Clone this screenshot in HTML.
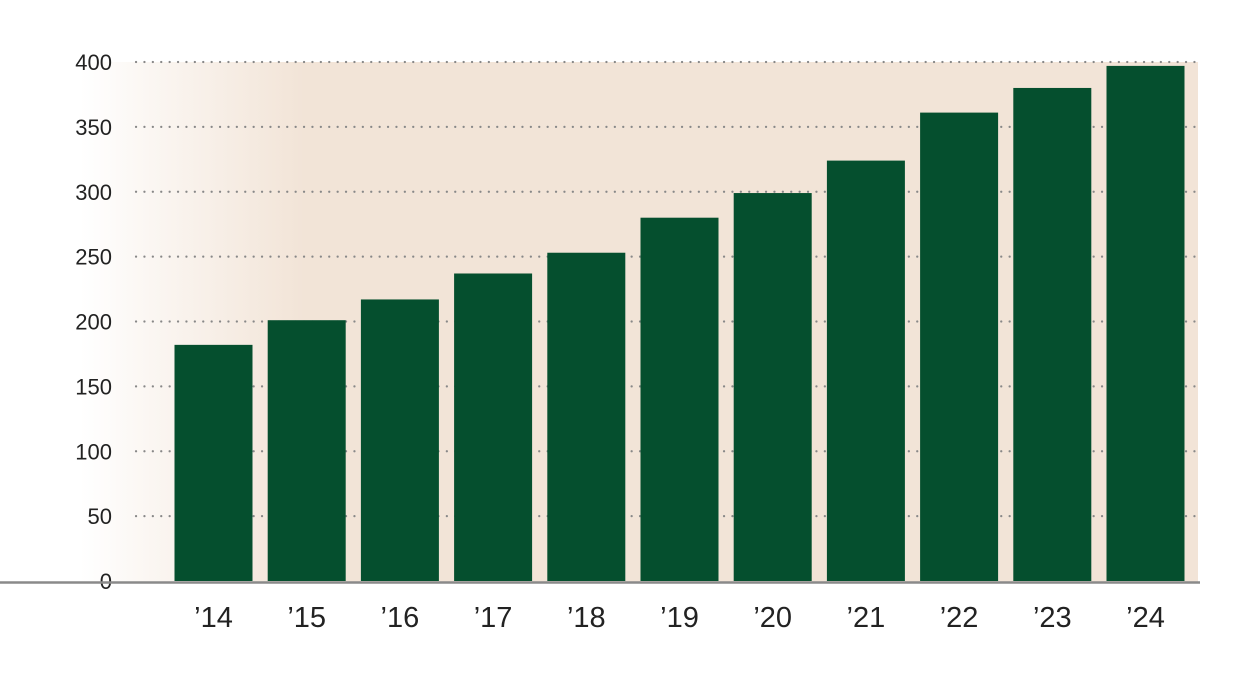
<!DOCTYPE html>
<html><head><meta charset="utf-8"><style>
html,body{margin:0;padding:0;background:#fff;}
svg{display:block;}
text{font-family:"Liberation Sans",sans-serif;fill:#222;}
</style></head><body>
<svg id="chart" width="1250" height="677" viewBox="0 0 1250 677">
<defs><linearGradient id="bg" x1="0" x2="1" y1="0" y2="0">
<stop offset="0" stop-color="#f2e4d7" stop-opacity="0"/>
<stop offset="0.2" stop-color="#f2e4d7" stop-opacity="1"/>
<stop offset="1" stop-color="#f2e4d7"/></linearGradient></defs>
<rect x="80" y="62" width="1118" height="520" fill="url(#bg)"/>
<g id="grid"></g><g id="bars"></g><g id="xlabels"></g>
<line x1="0" x2="1200" y1="582.5" y2="582.5" stroke="#8a8a8a" stroke-width="2.5"/>
</svg>
<script>
const categories=["’14","’15","’16","’17","’18","’19","’20","’21","’22","’23","’24"];
const values=[182,201,217,237,253,280,299,324,361,380,397];
const ticks=[0,50,100,150,200,250,300,350,400];
const ns="http://www.w3.org/2000/svg";
const y=v=>581-v*(519/400);
const xc=i=>213.5+i*93.2;
const bw=78;
const grid=document.getElementById('grid'),bars=document.getElementById('bars'),xl=document.getElementById('xlabels');
ticks.forEach(t=>{
 if(t>0){const l=document.createElementNS(ns,'line');
 
 
 l.setAttribute('x1',136);l.setAttribute('x2',1197);l.setAttribute('y1',y(t));l.setAttribute('y2',y(t));
 l.setAttribute('stroke','#888');l.setAttribute('stroke-width','2.2');l.setAttribute('stroke-dasharray','0.1 8.3');l.setAttribute('stroke-linecap','round');
 grid.appendChild(l);}
 const tx=document.createElementNS(ns,'text');
 
 
 tx.setAttribute('x',112);tx.setAttribute('y',y(t)+8);tx.setAttribute('text-anchor','end');tx.setAttribute('font-size','22');
 tx.textContent=t;grid.appendChild(tx);
});
values.forEach((v,i)=>{
 const r=document.createElementNS(ns,'rect');
 
 
 r.setAttribute('x',xc(i)-bw/2);r.setAttribute('y',y(v));r.setAttribute('width',bw);r.setAttribute('height',581-y(v));r.setAttribute('fill','#054f2e');
 bars.appendChild(r);
 const tx=document.createElementNS(ns,'text');
 
 
 tx.setAttribute('x',xc(i));tx.setAttribute('y',627);tx.setAttribute('text-anchor','middle');tx.setAttribute('font-size','29');
 tx.textContent=categories[i];xl.appendChild(tx);
});
</script>
</body></html>
